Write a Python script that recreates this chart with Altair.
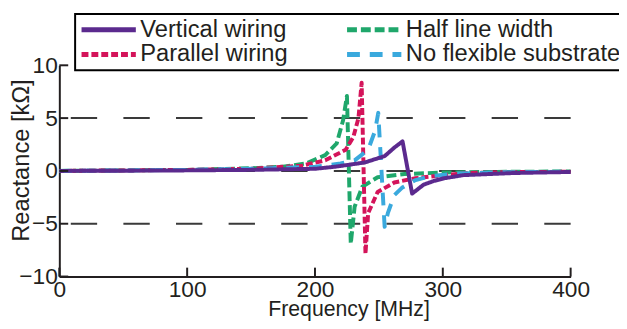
import altair as alt
import pandas as pd

# ---- data ----
series_names = ["Vertical wiring", "Half line width", "Parallel wiring", "No flexible substrate"]
series_colors = ["#5b2a8e", "#1fa76b", "#d4145a", "#3aa9dd"]
series_dashes = [[1, 0], [10, 4], [7, 3], [13, 10]]

half_f = [0, 50, 100, 150, 175, 193, 208, 217, 222, 225, 228, 231, 237, 249, 270, 300, 350, 400]
half_v = [0.0, 0.05, 0.1, 0.25, 0.4, 0.7, 1.5, 2.6, 4.8, 7.1, -6.9, -3.4, -1.5, -0.6, -0.3, -0.15, -0.08, -0.05]

par_f = [0, 50, 100, 150, 190, 208, 224, 230, 234, 236.5, 239.5, 241.6, 249, 262, 278, 301, 320, 350, 400]
par_v = [0.0, 0.05, 0.1, 0.2, 0.5, 1.0, 2.0, 3.2, 5.0, 8.35, -7.85, -4.0, -2.0, -1.1, -0.7, -0.4, -0.2, -0.12, -0.08]

nofl_f = [0, 100, 150, 200, 220, 231, 241.6, 247, 249.5, 254.5, 257, 262, 268, 278, 290, 310, 350, 400]
nofl_v = [0.0, 0.1, 0.2, 0.4, 0.7, 1.0, 2.0, 3.8, 5.5, -5.3, -4.0, -2.3, -1.6, -0.9, -0.5, -0.25, -0.12, -0.08]

vert_f = [0, 50, 100, 150, 200, 216, 239, 254.5, 262, 268.5, 276, 285, 293, 301, 316, 355, 400]
vert_v = [0.0, 0.02, 0.05, 0.1, 0.2, 0.4, 0.8, 1.4, 2.2, 2.8, -2.15, -1.3, -0.95, -0.7, -0.4, -0.2, -0.1]

x_ticks = [0, 100, 200, 300, 400]
y_ticks = [-10, -5, 0, 5, 10]
grid_levels = [-5, 0, 5]

# ---- build table (drawing order: green, red, blue, purple on top) ----
rows = []
for name, fs, vs in [("Half line width", half_f, half_v),
                     ("Parallel wiring", par_f, par_v),
                     ("No flexible substrate", nofl_f, nofl_v),
                     ("Vertical wiring", vert_f, vert_v)]:
    for f, v in zip(fs, vs):
        rows.append({"series": name, "freq": f, "reactance": v})
df = pd.DataFrame(rows)

FONT = "Liberation Sans"
TXT = "#231f20"
W, H = 518, 214

x_scale = alt.Scale(domain=[0, 400], nice=False, zero=False)
y_scale = alt.Scale(domain=[-10, 10], nice=False, zero=False)

x_axis = alt.Axis(values=x_ticks, title="Frequency [MHz]", labelBaseline="alphabetic",
                  labelPadding=20, labelFlush=False, titleBaseline="alphabetic",
                  titleX=293, titleY=39.5, titleFontSize=21.5)
y_axis = alt.Axis(values=y_ticks, title="Reactance [kΩ]", labelPadding=2, labelFlush=False,
                  titleX=-38, titleY=96, titleBaseline="middle", titleFontSize=24)

legend = alt.Legend(
    orient="none", legendX=16, legendY=-52, columns=2, direction="horizontal",
    columnPadding=57, rowPadding=1, padding=4, clipHeight=24,
    symbolType="stroke", symbolSize=3025,
    symbolStrokeWidth=5, labelFontSize=24, labelFont=FONT, labelColor=TXT,
    labelOffset=2, labelLimit=400, strokeColor="#000000", fillColor="#ffffff",
)

grid = alt.Chart(pd.DataFrame({"g": grid_levels})).mark_rule(
    color="#3a3a3a", strokeWidth=2, strokeDash=[26.7, 26.6]
).encode(y=alt.Y("g:Q", scale=y_scale, axis=y_axis, title="Reactance [kΩ]"))

lines = alt.Chart(df).mark_line(strokeWidth=4, strokeCap="butt", strokeJoin="round").encode(
    x=alt.X("freq:Q", scale=x_scale, axis=x_axis, title="Frequency [MHz]"),
    y=alt.Y("reactance:Q", scale=y_scale, axis=y_axis, title="Reactance [kΩ]"),
    color=alt.Color("series:N", scale=alt.Scale(domain=series_names, range=series_colors),
                    legend=legend, title=None),
    strokeDash=alt.StrokeDash("series:N", scale=alt.Scale(domain=series_names, range=series_dashes),
                              legend=legend, title=None),
)

xt = alt.Chart(pd.DataFrame({"t": x_ticks})).mark_rule(color=TXT, strokeWidth=2).encode(
    x=alt.X("t:Q", scale=x_scale, axis=x_axis, title="Frequency [MHz]"),
    y=alt.value(H), y2=alt.value(H - 9))
yt = alt.Chart(pd.DataFrame({"t": y_ticks})).mark_rule(color=TXT, strokeWidth=2).encode(
    y=alt.Y("t:Q", scale=y_scale, axis=y_axis, title="Reactance [kΩ]"),
    x=alt.value(0), x2=alt.value(9))

chart = alt.layer(grid, lines, xt, yt).properties(
    width=W, height=H,
    autosize=alt.AutoSizeParams(type="none"),
    padding={"left": 52, "top": 56, "right": 49, "bottom": 43},
).configure_view(strokeWidth=0).configure_axis(
    domainColor=TXT, domainWidth=2, ticks=False, tickSize=0, grid=False,
    labelFont=FONT, labelFontSize=23, labelColor=TXT,
    titleFont=FONT, titleColor=TXT, titleFontWeight="normal",
).configure_legend(strokeWidth=2)

chart.save("out.html", embed_options={"renderer": "svg", "actions": False})
